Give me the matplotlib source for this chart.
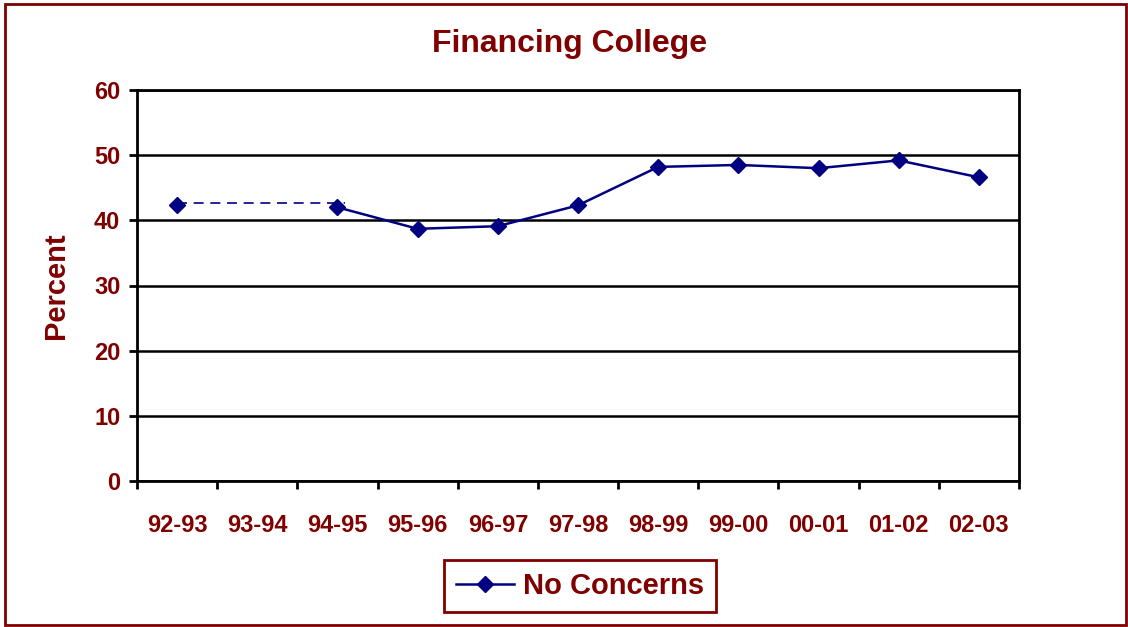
import matplotlib
matplotlib.use("Agg")
import matplotlib.pyplot as plt
from matplotlib.patches import Rectangle
import numpy as np

categories = ["92-93", "93-94", "94-95", "95-96", "96-97", "97-98",
              "98-99", "99-00", "00-01", "01-02", "02-03"]
no_concerns = [42.3, np.nan, 42.0, 38.7, 39.1, 42.3, 48.2, 48.5, 48.0, 49.2, 46.6]
gap_value = 42.7
yticks = [0, 10, 20, 30, 40, 50, 60]

red = "#800000"
navy = "#000080"

fig = plt.figure(figsize=(11.28, 6.27), dpi=100)
ax = fig.add_axes([137/1128, 1-481/627, (1019-137)/1128, (481-90)/627])

x = np.arange(len(categories))
ax.plot(x[2:], no_concerns[2:], color=navy, lw=1.8, marker="D", ms=8.5, label="No Concerns", zorder=4)
ax.plot([x[0]], [no_concerns[0]], color=navy, marker="D", ms=8.5, lw=0, zorder=4)
ax.plot([x[0], x[2] + 0.1], [gap_value, gap_value], color=navy, lw=1.2, ls=(0, (6, 4)), zorder=3)

ax.set_xlim(-0.5, len(categories) - 0.5)
ax.set_ylim(0, 60)
ax.set_yticks(yticks)
ax.set_yticklabels([str(v) for v in yticks])
ax.grid(axis="y", color="black", lw=1.8)
ax.set_axisbelow(True)

ax.set_xticks(x)
ax.set_xticklabels(categories)
ax.set_xticks(np.arange(-0.5, len(categories), 1.0), minor=True)
ax.tick_params(axis="x", which="major", length=0, pad=24)
ax.tick_params(axis="x", which="minor", length=6, width=2, direction="out", color="black")
ax.tick_params(axis="y", length=6, width=2, direction="out", pad=6)
for lab in ax.get_xticklabels() + ax.get_yticklabels():
    lab.set_color(red)
    lab.set_fontweight("bold")
    lab.set_fontsize(17)
    lab.set_family("Liberation Sans")

for s in ax.spines.values():
    s.set_linewidth(2)
    s.set_color("black")

ax.set_ylabel("Percent", color=red, fontsize=21, fontweight="bold", family="Liberation Sans", labelpad=17)
fig.text(570/1128, 1-44/627, "Financing College", color=red, fontsize=23, fontweight="bold",
         family="Liberation Sans", ha="center", va="center")

leg = ax.legend(loc="center", bbox_to_anchor=(580/1128, 1-586/627), bbox_transform=fig.transFigure,
                frameon=True, fancybox=False, prop={"family": "Liberation Sans", "weight": "bold", "size": 21},
                handlelength=2, handletextpad=0.3, borderpad=0.4, edgecolor=red, framealpha=1)
leg.get_frame().set_linewidth(2)
for t in leg.get_texts():
    t.set_color(red)

fig.patches.append(Rectangle((5/1128, 2/627), 1121/1128, 621/627, transform=fig.transFigure,
                             fill=False, edgecolor=red, lw=2))

fig.savefig("out.png", dpi=100)
